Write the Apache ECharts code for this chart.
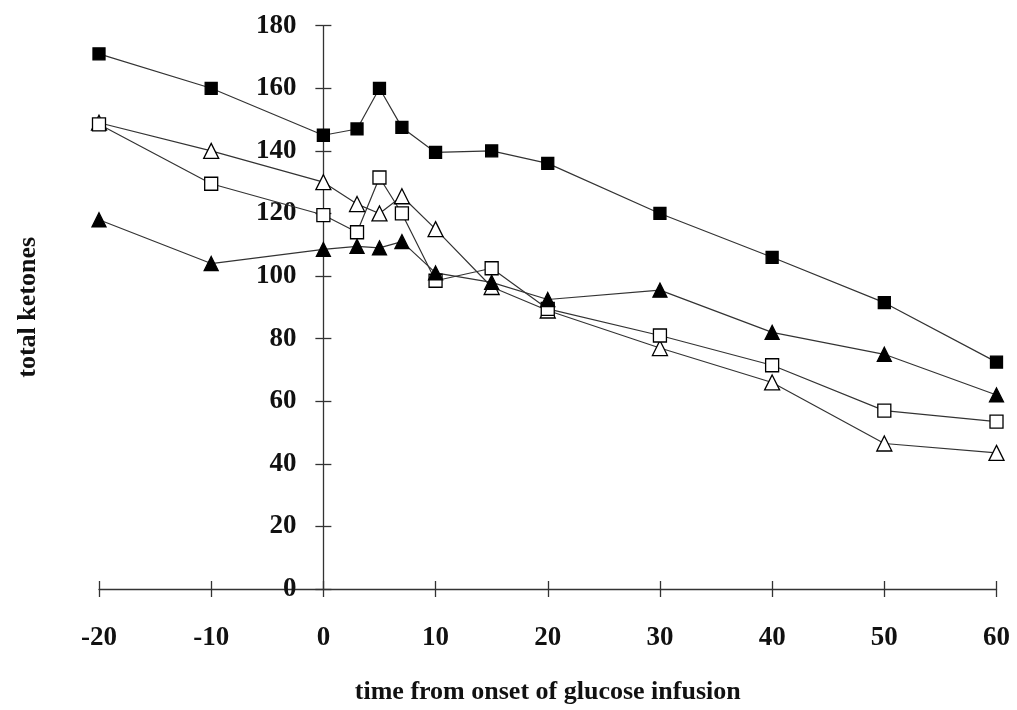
<!DOCTYPE html>
<html>
<head>
<meta charset="utf-8">
<script src="https://cdn.jsdelivr.net/npm/echarts@6/dist/echarts.min.js"></script>
<style>
html,body{margin:0;padding:0;background:#fff;}
#chart{width:1017px;height:710px;}
</style>
</head>
<body>
<div id="chart"></div>
<script>
const times = [-20, -10, 0, 3, 5, 7, 10, 15, 20, 30, 40, 50, 60];
const filledSquare = [171, 160, 145, 147, 160, 147.5, 139.5, 140, 136, 120, 106, 91.5, 72.5];
const openTriangle = [149, 140, 130, 123, 120, 125.5, 115, 96.5, 89, 77, 66, 46.5, 43.5];
const openSquare = [148.5, 129.5, 119.5, 114, 131.5, 120, 98.5, 102.5, 89.5, 81, 71.5, 57, 53.5];
const filledTriangle = [118, 104, 108.5, 109.5, 109, 111, 101, 98, 92.5, 95.5, 82, 75, 62];
const xTitle = 'time from onset of glucose infusion';
const yTitle = 'total ketones';

const font = 'Liberation Serif';
const pair = arr => times.map((t, i) => [t, arr[i]]);

// grid geometry
const gLeft = 99, gRight = 20.5, W = 1017;
const xMin = -20, xMax = 60;
const plotW = W - gLeft - gRight;
const zeroX = gLeft + plotW * (0 - xMin) / (xMax - xMin);
const leftOffset = -(zeroX - gLeft);
const rightOffset = -((W - gRight) - zeroX);

function mkSeries(name, arr, symbol, size, fill) {
  return {
    name: name, type: 'line', data: pair(arr),
    xAxisIndex: 0, yAxisIndex: 0,
    symbol: symbol, symbolSize: size, showAllSymbol: true,
    lineStyle: {color: '#333', width: 1.2},
    itemStyle: {color: fill, borderColor: '#000', borderWidth: 1.3},
    emphasis: {disabled: true},
    animation: false
  };
}

const chart = echarts.init(document.getElementById('chart'), null, {renderer: 'canvas'});
chart.setOption({
  backgroundColor: '#fff',
  animation: false,
  grid: {left: gLeft, right: gRight, top: 25.7, bottom: 121, containLabel: false, outerBoundsMode: 'none'},
  xAxis: [{
    type: 'value', min: xMin, max: xMax, interval: 10, position: 'bottom',
    axisLine: {show: true, onZero: false, lineStyle: {color: '#333', width: 1.3}},
    axisTick: {show: true, inside: false, length: 8, lineStyle: {color: '#333', width: 1.3}},
    axisLabel: {margin: 36, fontFamily: font, fontWeight: 'bold', fontSize: 27, color: '#111'},
    splitLine: {show: false},
    name: xTitle, nameLocation: 'middle', nameGap: 90,
    nameTextStyle: {fontFamily: font, fontWeight: 'bold', fontSize: 26, color: '#111'}
  }, {
    type: 'value', min: xMin, max: xMax, interval: 10, position: 'top', offset: -(710 - 121 - 25.7),
    axisLine: {show: false, onZero: false},
    axisTick: {show: true, inside: false, length: 8, lineStyle: {color: '#333', width: 1.3}},
    axisLabel: {show: false},
    splitLine: {show: false}
  }],
  yAxis: [{
    type: 'value', min: 0, max: 180, interval: 20, position: 'left', offset: leftOffset,
    axisLine: {show: true, onZero: false, lineStyle: {color: '#333', width: 1.3}},
    axisTick: {show: true, inside: false, length: 8, lineStyle: {color: '#333', width: 1.3}},
    axisLabel: {margin: 27, fontFamily: font, fontWeight: 'bold', fontSize: 27, color: '#111'},
    splitLine: {show: false},
    name: yTitle, nameLocation: 'middle', nameGap: 282, nameRotate: 90,
    nameTextStyle: {fontFamily: font, fontWeight: 'bold', fontSize: 26, color: '#111'}
  }, {
    type: 'value', min: 0, max: 180, interval: 20, position: 'right', offset: rightOffset,
    axisLine: {show: false, onZero: false},
    axisTick: {show: true, inside: false, length: 8, lineStyle: {color: '#333', width: 1.3}},
    axisLabel: {show: false},
    splitLine: {show: false}
  }],
  series: [
    mkSeries('filled squares', filledSquare, 'rect', 12, '#000'),
    mkSeries('open triangles', openTriangle, 'triangle', 15, '#fff'),
    mkSeries('open squares', openSquare, 'rect', 13, '#fff'),
    mkSeries('filled triangles', filledTriangle, 'triangle', 14, '#000')
  ]
});
</script>
</body>
</html>
